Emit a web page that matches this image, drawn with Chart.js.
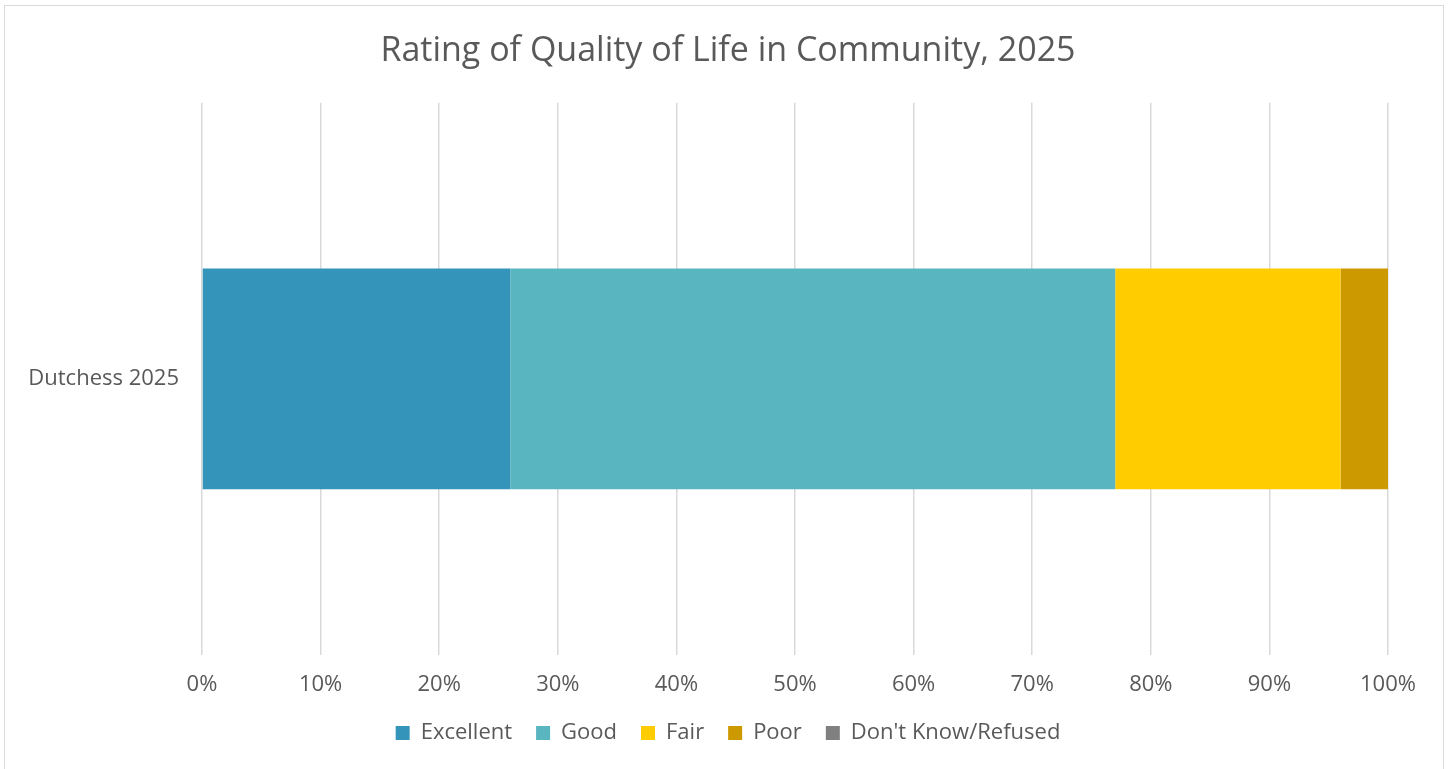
<!DOCTYPE html>
<html>
<head>
<meta charset="utf-8">
<script src="https://cdn.jsdelivr.net/npm/chart.js@4.4.1/dist/chart.umd.min.js"></script>
<style>
  html, body { margin: 0; padding: 0; background: #fff; overflow: hidden; }
  #wrap { position: absolute; left: 0; top: 0; width: 1450px; height: 769px; }
  #frame { position: absolute; left: 4px; top: 5px; width: 1438px; height: 790px; border: 1px solid #d9d9d9; pointer-events: none; }
</style>
</head>
<body>
<div id="wrap"><canvas id="qualityOfLife"></canvas></div>
<div id="frame"></div>
<script>
var categories = ["Dutchess 2025"];
var excellent = [26];
var good = [51];
var fair = [19];
var poor = [4];
var dontKnow = [0];
var xTicks = [0, 10, 20, 30, 40, 50, 60, 70, 80, 90, 100];

var textColor = "#595959";
var fontFamily = "'Open Sans', 'Liberation Sans', sans-serif";

var qualityData = {
  labels: categories,
  datasets: [
    { label: "Excellent", data: excellent, backgroundColor: "#3594BA" },
    { label: "Good", data: good, backgroundColor: "#59B5C0" },
    { label: "Fair", data: fair, backgroundColor: "#FFCC00" },
    { label: "Poor", data: poor, backgroundColor: "#CC9900" },
    { label: "Don't Know/Refused", data: dontKnow, backgroundColor: "#808080" }
  ]
};

var qualityOptions = {
  responsive: true,
  maintainAspectRatio: false,
  animation: false,
  indexAxis: "y",
  layout: {
    padding: { left: 6, right: 0, top: 31, bottom: 15 }
  },
  datasets: {
    bar: { barPercentage: 0.4, categoryPercentage: 1.0, borderWidth: 0 }
  },
  plugins: {
    title: {
      display: true,
      text: "Rating of Quality of Life in Community, 2025",
      color: textColor,
      font: { family: fontFamily, size: 34, weight: "normal" },
      padding: { top: 0, bottom: 31 }
    },
    legend: {
      position: "bottom",
      labels: {
        color: textColor,
        font: { family: fontFamily, size: 22 },
        boxWidth: 14,
        boxHeight: 14,
        padding: 24
      }
    },
    tooltip: { enabled: false }
  },
  scales: {
    x: {
      stacked: true,
      min: 0,
      max: 100,
      afterBuildTicks: function(scale) {
        scale.ticks = xTicks.map(function(v) { return { value: v }; });
      },
      afterFit: function(scale) { scale.height = 43; },
      ticks: {
        color: textColor,
        font: { family: fontFamily, size: 22 },
        padding: 17,
        maxRotation: 0,
        callback: function(v) { return v + "%"; }
      },
      grid: { color: "#d9d9d9", lineWidth: 1.5, drawTicks: false },
      border: { display: false }
    },
    y: {
      stacked: true,
      afterFit: function(scale) { scale.width = 196; },
      ticks: {
        color: textColor,
        font: { family: fontFamily, size: 22 },
        padding: 23
      },
      grid: { display: false, drawTicks: false },
      border: { display: false }
    },
    // empty axis on the right keeps room for the "100%" label
    yRight: {
      type: "category",
      position: "right",
      afterFit: function(scale) { scale.width = 62; },
      ticks: { display: false },
      grid: { display: false, drawTicks: false },
      border: { display: false }
    }
  }
};

var ctx = document.getElementById("qualityOfLife").getContext("2d");
new Chart(ctx, {
  type: "bar",
  data: qualityData,
  options: qualityOptions
});
</script>
</body>
</html>
